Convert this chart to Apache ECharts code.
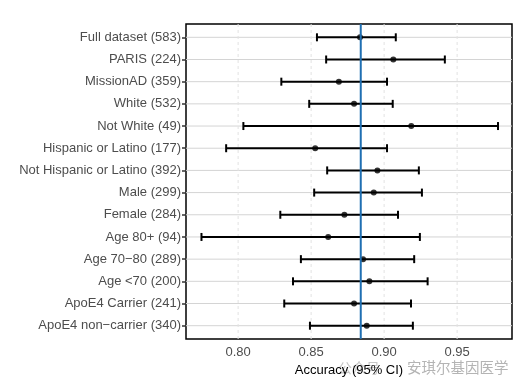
<!DOCTYPE html>
<html><head><meta charset="utf-8">
<script src="https://cdn.jsdelivr.net/npm/echarts@6/dist/echarts.min.js"></script>
<style>html,body{margin:0;padding:0;background:#fff}#c{width:528px;height:392px}</style>
</head><body><div id="c"></div>
<script>
const categories = [
  'Full dataset (583)', 'PARIS (224)', 'MissionAD (359)', 'White (532)', 'Not White (49)',
  'Hispanic or Latino (177)', 'Not Hispanic or Latino (392)', 'Male (299)', 'Female (284)',
  'Age 80+ (94)', 'Age 70\u221280 (289)', 'Age <70 (200)', 'ApoE4 Carrier (241)', 'ApoE4 non\u2212carrier (340)'
];
const accuracy = [0.8835, 0.9063, 0.8690, 0.8794, 0.9186, 0.8528, 0.8954, 0.8929, 0.8728, 0.8617, 0.8856, 0.8899, 0.8794, 0.8881];
const ciLower  = [0.8540, 0.8603, 0.8296, 0.8487, 0.8036, 0.7918, 0.8610, 0.8521, 0.8289, 0.7749, 0.8430, 0.8376, 0.8316, 0.8492];
const ciUpper  = [0.9080, 0.9416, 0.9020, 0.9059, 0.9780, 0.9020, 0.9238, 0.9259, 0.9095, 0.9245, 0.9206, 0.9298, 0.9184, 0.9197];
const xTicks = [0.80, 0.85, 0.90, 0.95];
const xTickLabels = ['0.80', '0.85', '0.90', '0.95'];
const referenceAccuracy = 0.884;
const xMin = 0.7643, xMax = 0.9876;

const rowPos = categories.map((_, i) => i + 1);
const yMin = 0.4, yMax = categories.length + 0.6;

const chart = echarts.init(document.getElementById('c'), null, {renderer: 'canvas'});
const FONT = '"Liberation Sans", Arial, sans-serif';

function renderHGrid(params, api) {
  const cs = params.coordSys;
  const y = api.coord([xMin, api.value(0)])[1];
  return {type: 'line', shape: {x1: cs.x, y1: y, x2: cs.x + cs.width, y2: y},
    style: {stroke: '#d4d4d4', lineWidth: 1}};
}
function renderVGrid(params, api) {
  const cs = params.coordSys;
  const x = api.coord([api.value(0), yMin])[0];
  return {type: 'line', shape: {x1: x, y1: cs.y, x2: x, y2: cs.y + cs.height},
    style: {stroke: '#e2e2e2', lineWidth: 1, lineDash: [3, 3]}};
}
function renderErr(params, api) {
  const y = api.value(0), lo = api.value(1), hi = api.value(2);
  const p1 = api.coord([lo, y]), p2 = api.coord([hi, y]);
  const h = 4, st = {stroke: '#000', lineWidth: 2};
  return {type: 'group', children: [
    {type: 'line', shape: {x1: p1[0], y1: p1[1], x2: p2[0], y2: p2[1]}, style: st},
    {type: 'line', shape: {x1: p1[0], y1: p1[1] - h, x2: p1[0], y2: p1[1] + h}, style: st},
    {type: 'line', shape: {x1: p2[0], y1: p2[1] - h, x2: p2[0], y2: p2[1] + h}, style: st}
  ]};
}
function renderRef(params, api) {
  const cs = params.coordSys;
  const x = api.coord([api.value(0), yMin])[0];
  return {type: 'line', shape: {x1: x, y1: cs.y, x2: x, y2: cs.y + cs.height},
    style: {stroke: '#1f6fb2', lineWidth: 2}};
}

chart.setOption({
  animation: false,
  backgroundColor: '#fff',
  grid: {left: 186, right: 16, top: 24, bottom: 53, show: true, borderColor: '#000', borderWidth: 1.5, backgroundColor: 'transparent'},
  xAxis: {
    type: 'value', min: xMin, max: xMax,
    name: 'Accuracy (95% CI)', nameLocation: 'middle', nameGap: 23,
    nameTextStyle: {color: '#000', fontSize: 13, fontFamily: FONT},
    axisLine: {show: false}, axisTick: {show: false}, splitLine: {show: false},
    axisLabel: {customValues: xTicks, formatter: v => { const i = xTicks.findIndex(t => Math.abs(t - v) < 1e-9); return i >= 0 ? xTickLabels[i] : ''; },
      color: '#4d4d4d', fontSize: 13, fontFamily: FONT, margin: 7}
  },
  yAxis: {
    type: 'value', min: yMin, max: yMax, inverse: true,
    axisLine: {show: false}, splitLine: {show: false},
    axisTick: {show: true, customValues: rowPos, length: 4, lineStyle: {color: '#333', width: 1.5}},
    axisLabel: {customValues: rowPos, formatter: v => categories[Math.round(v) - 1] || '',
      color: '#4d4d4d', fontSize: 13, fontFamily: FONT, margin: 5}
  },
  graphic: [
    {type: 'text', left: 338, top: 361, z: 0, style: {text: '公众号', fill: '#c8c8c8', font: '14px "Noto Sans CJK SC"'}},
    {type: 'text', left: 407, top: 360, z: 0, style: {text: '安琪尔基因医学', fill: '#b4b4b4', font: '14.5px "Noto Sans CJK SC"'}}
  ],
  series: [
    {type: 'custom', z: 1, silent: true, renderItem: renderHGrid, data: rowPos.map(r => [r])},
    {type: 'custom', z: 1, silent: true, renderItem: renderVGrid, data: xTicks.map(t => [t])},
    {type: 'custom', z: 2, silent: true, renderItem: renderErr, data: rowPos.map((r, i) => [r, ciLower[i], ciUpper[i]])},
    {type: 'scatter', z: 3, silent: true, symbol: 'circle', symbolSize: 6, itemStyle: {color: '#000'},
      data: rowPos.map((r, i) => [accuracy[i], r])},
    {type: 'custom', z: 4, silent: true, renderItem: renderRef, data: [[referenceAccuracy]]}
  ]
});
</script></body></html>
